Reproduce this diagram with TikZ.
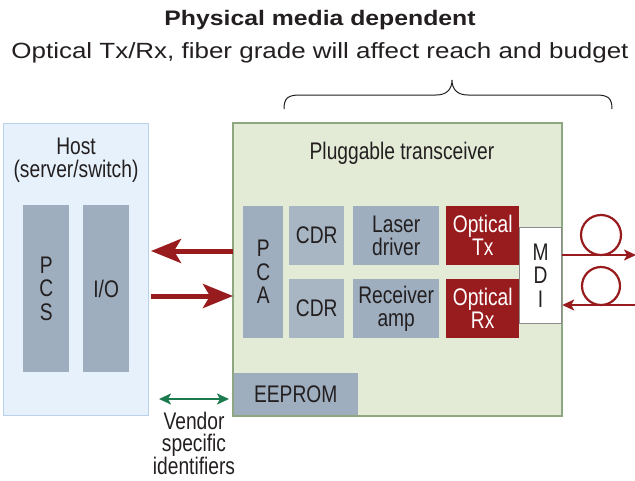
\documentclass[tikz,border=0pt]{standalone}
\usepackage{fontspec}
\setmainfont{Liberation Sans}[FakeStretch=0.8]
\newfontfamily\widefont{Liberation Sans}[FakeStretch=1.18]
\usetikzlibrary{arrows.meta}
\definecolor{txt}{HTML}{231F20}
\definecolor{hostfill}{HTML}{E6F1FB}
\definecolor{hostdraw}{HTML}{B9D1E9}
\definecolor{trxfill}{HTML}{E3EBD7}
\definecolor{trxdraw}{HTML}{8EA781}
\definecolor{blk}{HTML}{9EAEBE}
\definecolor{blklight}{HTML}{A8B6C4}
\definecolor{optred}{HTML}{981B1E}
\definecolor{vgreen}{HTML}{1B7A4E}
\definecolor{mdidraw}{HTML}{8C8C8C}
\begin{document}
\begin{tikzpicture}[x=1pt,y=-1pt,
  every node/.style={text=txt,inner sep=0pt,align=center},
  blkbox/.style={fill=blk,anchor=north west},
  redbox/.style={fill=optred,anchor=north west,text=white},
  lbl/.style={font=\fontsize{24}{23}\selectfont},
  vert/.style={font=\fontsize{24}{23.5}\selectfont},
  bigarrow/.style={draw=optred,line width=5pt,-{Stealth[length=30pt,width=24pt,inset=7pt]}},
  fiber/.style={draw=optred,line width=2.2pt,-{Stealth[length=12pt,width=11pt,inset=3pt]}},
  vendarrow/.style={draw=vgreen,line width=2.5pt,{Stealth[length=12pt,width=11pt,inset=3pt]}-{Stealth[length=12pt,width=11pt,inset=3pt]}}]
\useasboundingbox (0,0) rectangle (635,480);

% titles
\node[font=\widefont\bfseries\fontsize{21}{22}\selectfont] (title) at (320,20) {Physical media dependent};
\node[font=\widefont\fontsize{22}{23}\selectfont] (sub) at (320,53) {Optical Tx/Rx, fiber grade will affect reach and budget};

% brace
\draw[txt,line width=1pt] (284,109) .. controls (284,98) and (288,95) .. (300,95) -- (436,95)
  .. controls (446,95) and (452,90) .. (452,80) .. controls (452,90) and (458,95) .. (468,95)
  -- (596,95) .. controls (608,95) and (612,98) .. (612,109);

% host
\node[fill=hostfill,draw=hostdraw,line width=1.2pt,minimum width=145pt,minimum height=292pt,anchor=north west] (host) at (3,123) {};
\node[lbl] (hostlbl) at (76,160) {Host\\(server/switch)};
\node[blkbox,minimum width=46pt,minimum height=167pt] (pcs) at (23,205) {};
\node[vert] at (pcs.center) {P\\C\\S};
\node[blkbox,minimum width=46pt,minimum height=167pt] (io) at (83,205) {};
\node[lbl] at (io.center) {I/O};

% transceiver
\node[fill=trxfill,draw=trxdraw,line width=1.2pt,minimum width=328pt,minimum height=292pt,anchor=north west] (trx) at (233,123) {};
\node[lbl] (trxlbl) at (402,153) {Pluggable transceiver};

\node[blkbox,minimum width=40pt,minimum height=132pt] (pca) at (243,206) {};
\node[vert] at (pca.center) {P\\C\\A};
\node[blkbox,fill=blklight,minimum width=55pt,minimum height=59pt,lbl] (cdr1) at (289,206) {CDR};
\node[blkbox,fill=blklight,minimum width=55pt,minimum height=59pt,lbl] (cdr2) at (289,279) {CDR};
\node[blkbox,minimum width=86pt,minimum height=59pt,lbl] (ld) at (353,206) {Laser\\driver};
\node[blkbox,minimum width=86pt,minimum height=59pt,lbl] (ra) at (353,279) {Receiver\\amp};
\node[redbox,minimum width=73pt,minimum height=59pt,lbl] (otx) at (446,206) {Optical\\Tx};
\node[redbox,minimum width=73pt,minimum height=59pt,lbl] (orx) at (446,279) {Optical\\Rx};
\node[fill=white,draw=mdidraw,line width=1.2pt,minimum width=42pt,minimum height=96pt,anchor=north west] (mdi) at (519,227) {};
\node[vert] at (mdi.center) {M\\D\\I};
\node[blkbox,minimum width=125pt,minimum height=42pt,lbl] (eeprom) at (233,373) {EEPROM};
\draw[trxdraw,line width=1.2pt] (trx.north west) rectangle (trx.south east);

% host <-> transceiver arrows
\coordinate (a1s) at (trx.west |- 0,251);
\coordinate (a1e) at (151,251);
\coordinate (a2s) at (151,296);
\coordinate (a2e) at (trx.west |- 0,296);
\draw[bigarrow] (a1s) -- (a1e);
\draw[bigarrow] (a2s) -- (a2e);

% fibers
\coordinate (f1s) at (mdi.east |- 0,255);
\coordinate (f1e) at (636,255);
\coordinate (f2s) at (636,305);
\coordinate (f2e) at (mdi.east |- 0,305);
\draw[optred,line width=2.2pt] (601,235) circle (20pt);
\draw[optred,line width=2.2pt] (601,286) circle (19pt);
\draw[fiber] (f1s) -- (f1e);
\draw[fiber] (f2s) -- (f2e);

% vendor
\coordinate (v1) at (159,399);
\coordinate (v2) at (229,399);
\draw[vendarrow] (v1) -- (v2);
\node[font=\fontsize{24}{22.5}\selectfont] (vend) at (194,443) {Vendor\\specific\\identifiers};
\end{tikzpicture}
\end{document}
